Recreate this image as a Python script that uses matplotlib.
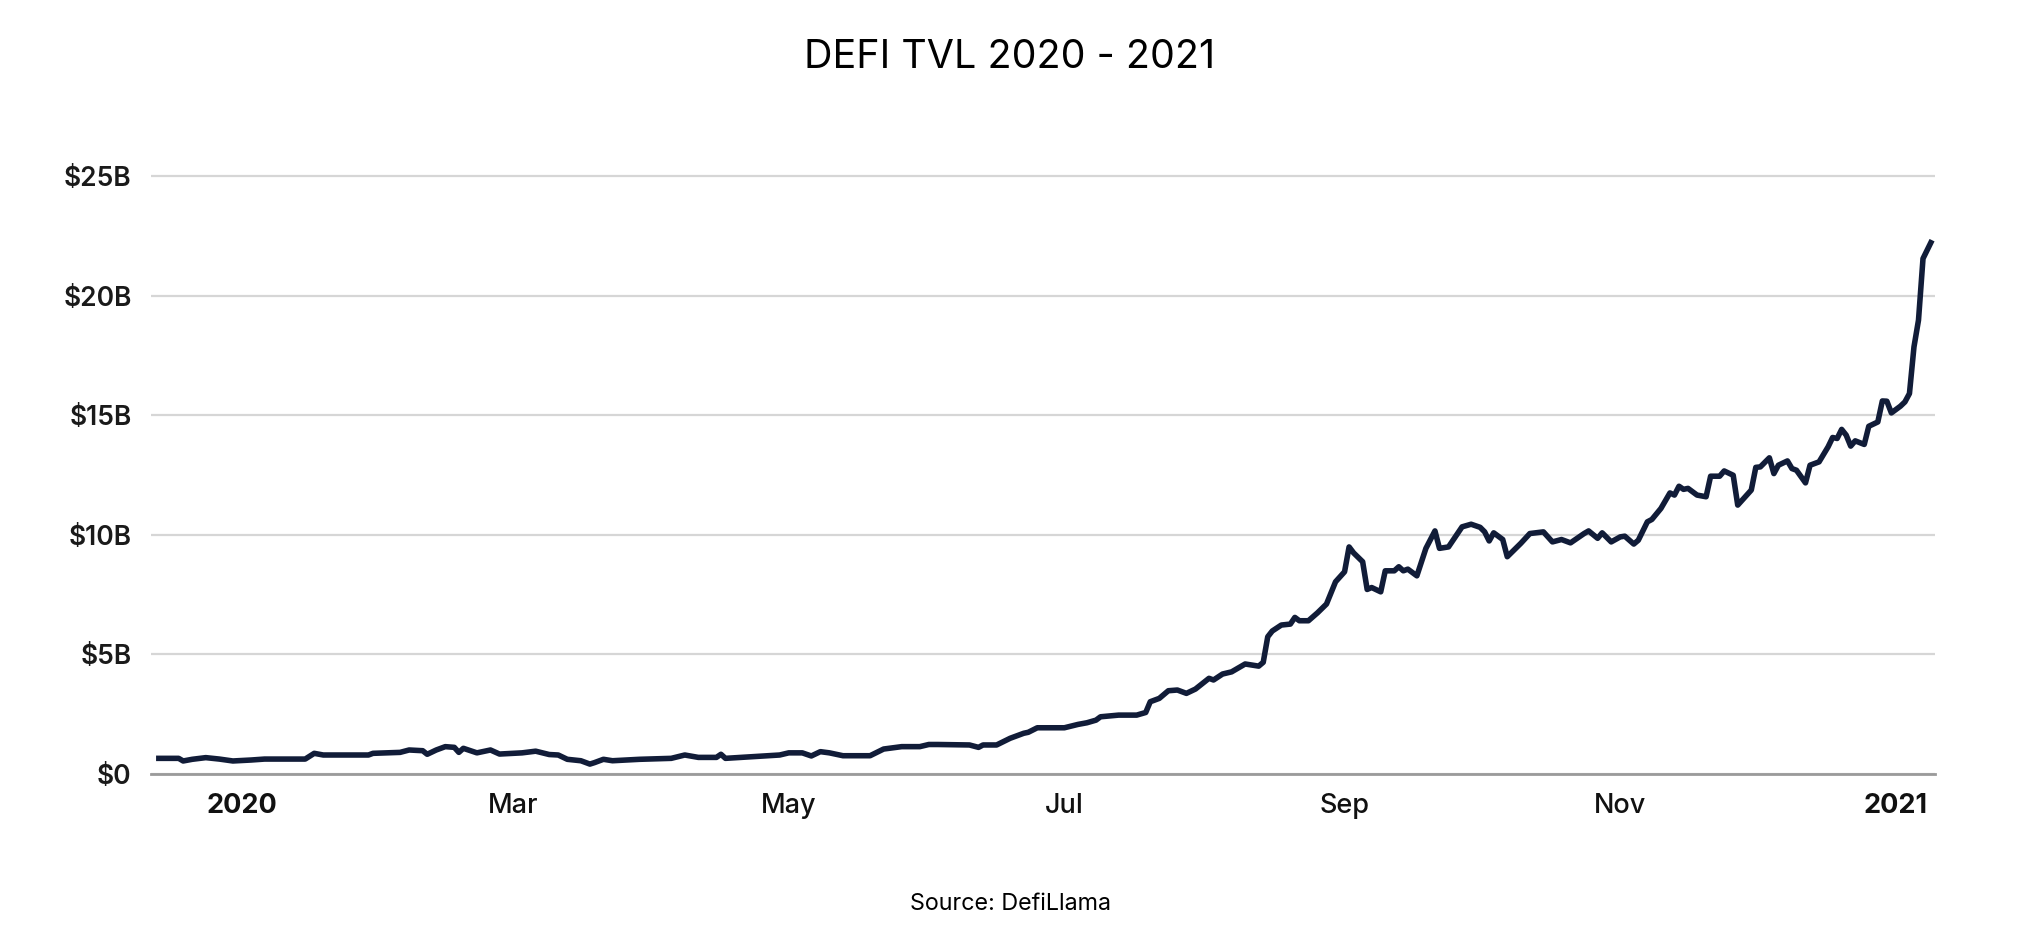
import pandas as pd
import matplotlib
matplotlib.use("Agg")
import matplotlib.pyplot as plt

# days counted from 2020-01-01, TVL in billions of USD
days = [-19, -14, -13, -11, -8, -5, -2, 2, 5, 14,
        16, 18, 28, 29, 35, 37, 40, 41, 43, 45,
        47, 48, 49, 52, 55, 57, 62, 65, 68, 70,
        72, 75, 77, 78, 80, 82, 88, 95, 98, 101,
        105, 106, 107, 113, 119, 121, 124, 126, 128, 130,
        133, 139, 142, 146, 150, 152, 154, 161, 163, 164,
        167, 170, 173, 174, 176, 182, 185, 187, 189, 190,
        194, 198, 200, 201, 203, 205, 207, 209, 211, 214,
        215, 217, 219, 222, 225, 226, 227, 228, 230, 232,
        233, 234, 236, 238, 240, 242, 244, 245, 246, 248,
        249, 250, 252, 253, 255, 256, 257, 258, 260, 262,
        264, 265, 267, 270, 272, 274, 275, 276, 277, 279,
        280, 283, 285, 288, 290, 292, 294, 297, 298, 300,
        301, 303, 305, 306, 308, 309, 311, 312, 314, 316,
        317, 318, 319, 320, 322, 324, 325, 327, 328, 330,
        331, 334, 335, 336, 338, 339, 340, 342, 343, 344,
        346, 347, 349, 351, 352, 353, 354, 355, 356, 357,
        359, 360, 362, 363, 364, 365, 367, 368, 369, 370,
        371, 372, 374]

tvl = [0.64, 0.64, 0.53, 0.60, 0.67, 0.61, 0.53, 0.57, 0.61, 0.61,
       0.85, 0.78, 0.78, 0.85, 0.89, 0.99, 0.96, 0.81, 0.99, 1.13,
       1.10, 0.89, 1.06, 0.87, 0.99, 0.82, 0.87, 0.94, 0.80, 0.78,
       0.60, 0.54, 0.40, 0.46, 0.60, 0.54, 0.60, 0.64, 0.78, 0.68,
       0.68, 0.81, 0.64, 0.71, 0.78, 0.87, 0.87, 0.74, 0.92, 0.87,
       0.75, 0.75, 1.03, 1.13, 1.13, 1.22, 1.22, 1.20, 1.10, 1.20,
       1.20, 1.48, 1.69, 1.73, 1.92, 1.92, 2.06, 2.13, 2.24, 2.38,
       2.45, 2.45, 2.56, 3.01, 3.15, 3.47, 3.50, 3.36, 3.54, 3.99,
       3.92, 4.17, 4.26, 4.59, 4.50, 4.66, 5.73, 5.97, 6.22, 6.26,
       6.54, 6.40, 6.40, 6.73, 7.10, 8.03, 8.45, 9.49, 9.24, 8.87,
       7.71, 7.79, 7.61, 8.49, 8.49, 8.66, 8.49, 8.56, 8.28, 9.43,
       10.16, 9.43, 9.49, 10.33, 10.44, 10.31, 10.12, 9.74, 10.08, 9.80,
       9.08, 9.64, 10.05, 10.12, 9.70, 9.80, 9.66, 10.05, 10.16, 9.85,
       10.08, 9.70, 9.91, 9.94, 9.61, 9.77, 10.54, 10.64, 11.10, 11.75,
       11.66, 12.03, 11.90, 11.94, 11.66, 11.59, 12.45, 12.45, 12.67, 12.49,
       11.24, 11.87, 12.82, 12.84, 13.22, 12.56, 12.91, 13.09, 12.77, 12.70,
       12.17, 12.91, 13.05, 13.68, 14.07, 14.03, 14.41, 14.17, 13.71, 13.93,
       13.78, 14.54, 14.72, 15.60, 15.59, 15.10, 15.38, 15.56, 15.91, 17.86,
       18.98, 21.56, 22.33]

tick_dates = ["2020-01-01", "2020-03-01", "2020-05-01", "2020-07-01",
              "2020-09-01", "2020-11-01", "2021-01-01"]
tick_labels = ["2020", "Mar", "May", "Jul", "Sep", "Nov", "2021"]
y_ticks = [0, 5, 10, 15, 20, 25]
y_labels = ["$0", "$5B", "$10B", "$15B", "$20B", "$25B"]

assert len(days) == len(tvl)

plt.rcParams['font.family'] = ['Inter', 'DejaVu Sans']

start = pd.Timestamp("2020-01-01")
dates = start + pd.to_timedelta(days, unit="D")

fig = plt.figure(figsize=(20.2, 9.46), dpi=100)
ax = fig.add_axes([0.0748, 0.1822, 0.8830, 0.6566])

ax.plot(dates, tvl, color="#111c38", linewidth=4.0, solid_joinstyle="round",
        solid_capstyle="butt", zorder=3)

ax.set_ylim(0, 26)
ax.set_xlim(start + pd.Timedelta(days=-20.1), start + pd.Timedelta(days=374.6))

ax.set_yticks(y_ticks)
ax.set_yticklabels(y_labels, fontsize=19, fontweight="semibold", color="#1a1a1a")
ax.set_xticks(pd.to_datetime(tick_dates))
ax.set_xticklabels(tick_labels, fontsize=19.5, fontweight="medium", color="#111111")
for lbl in ax.get_xticklabels():
    if lbl.get_text() in ("2020", "2021"):
        lbl.set_fontweight("bold")
ax.tick_params(axis="both", length=0)
ax.tick_params(axis="y", pad=14)
ax.tick_params(axis="x", pad=14)

ax.grid(axis="y", color="#d6d6d6", linewidth=1.6)
ax.grid(axis="x", visible=False)
for s in ["top", "right", "left"]:
    ax.spines[s].set_visible(False)
ax.spines["bottom"].set_color("#9a9a9a")
ax.spines["bottom"].set_linewidth(2.0)
ax.set_axisbelow(True)

fig.text(0.5, 0.928, "DEFI TVL 2020 - 2021", ha="center", va="baseline",
         fontsize=28.4, color="#000000")
fig.text(0.5, 0.038, "Source: DefiLlama", ha="center", va="baseline",
         fontsize=16.8, color="#000000")

fig.savefig("out.png", dpi=100, facecolor="white")
